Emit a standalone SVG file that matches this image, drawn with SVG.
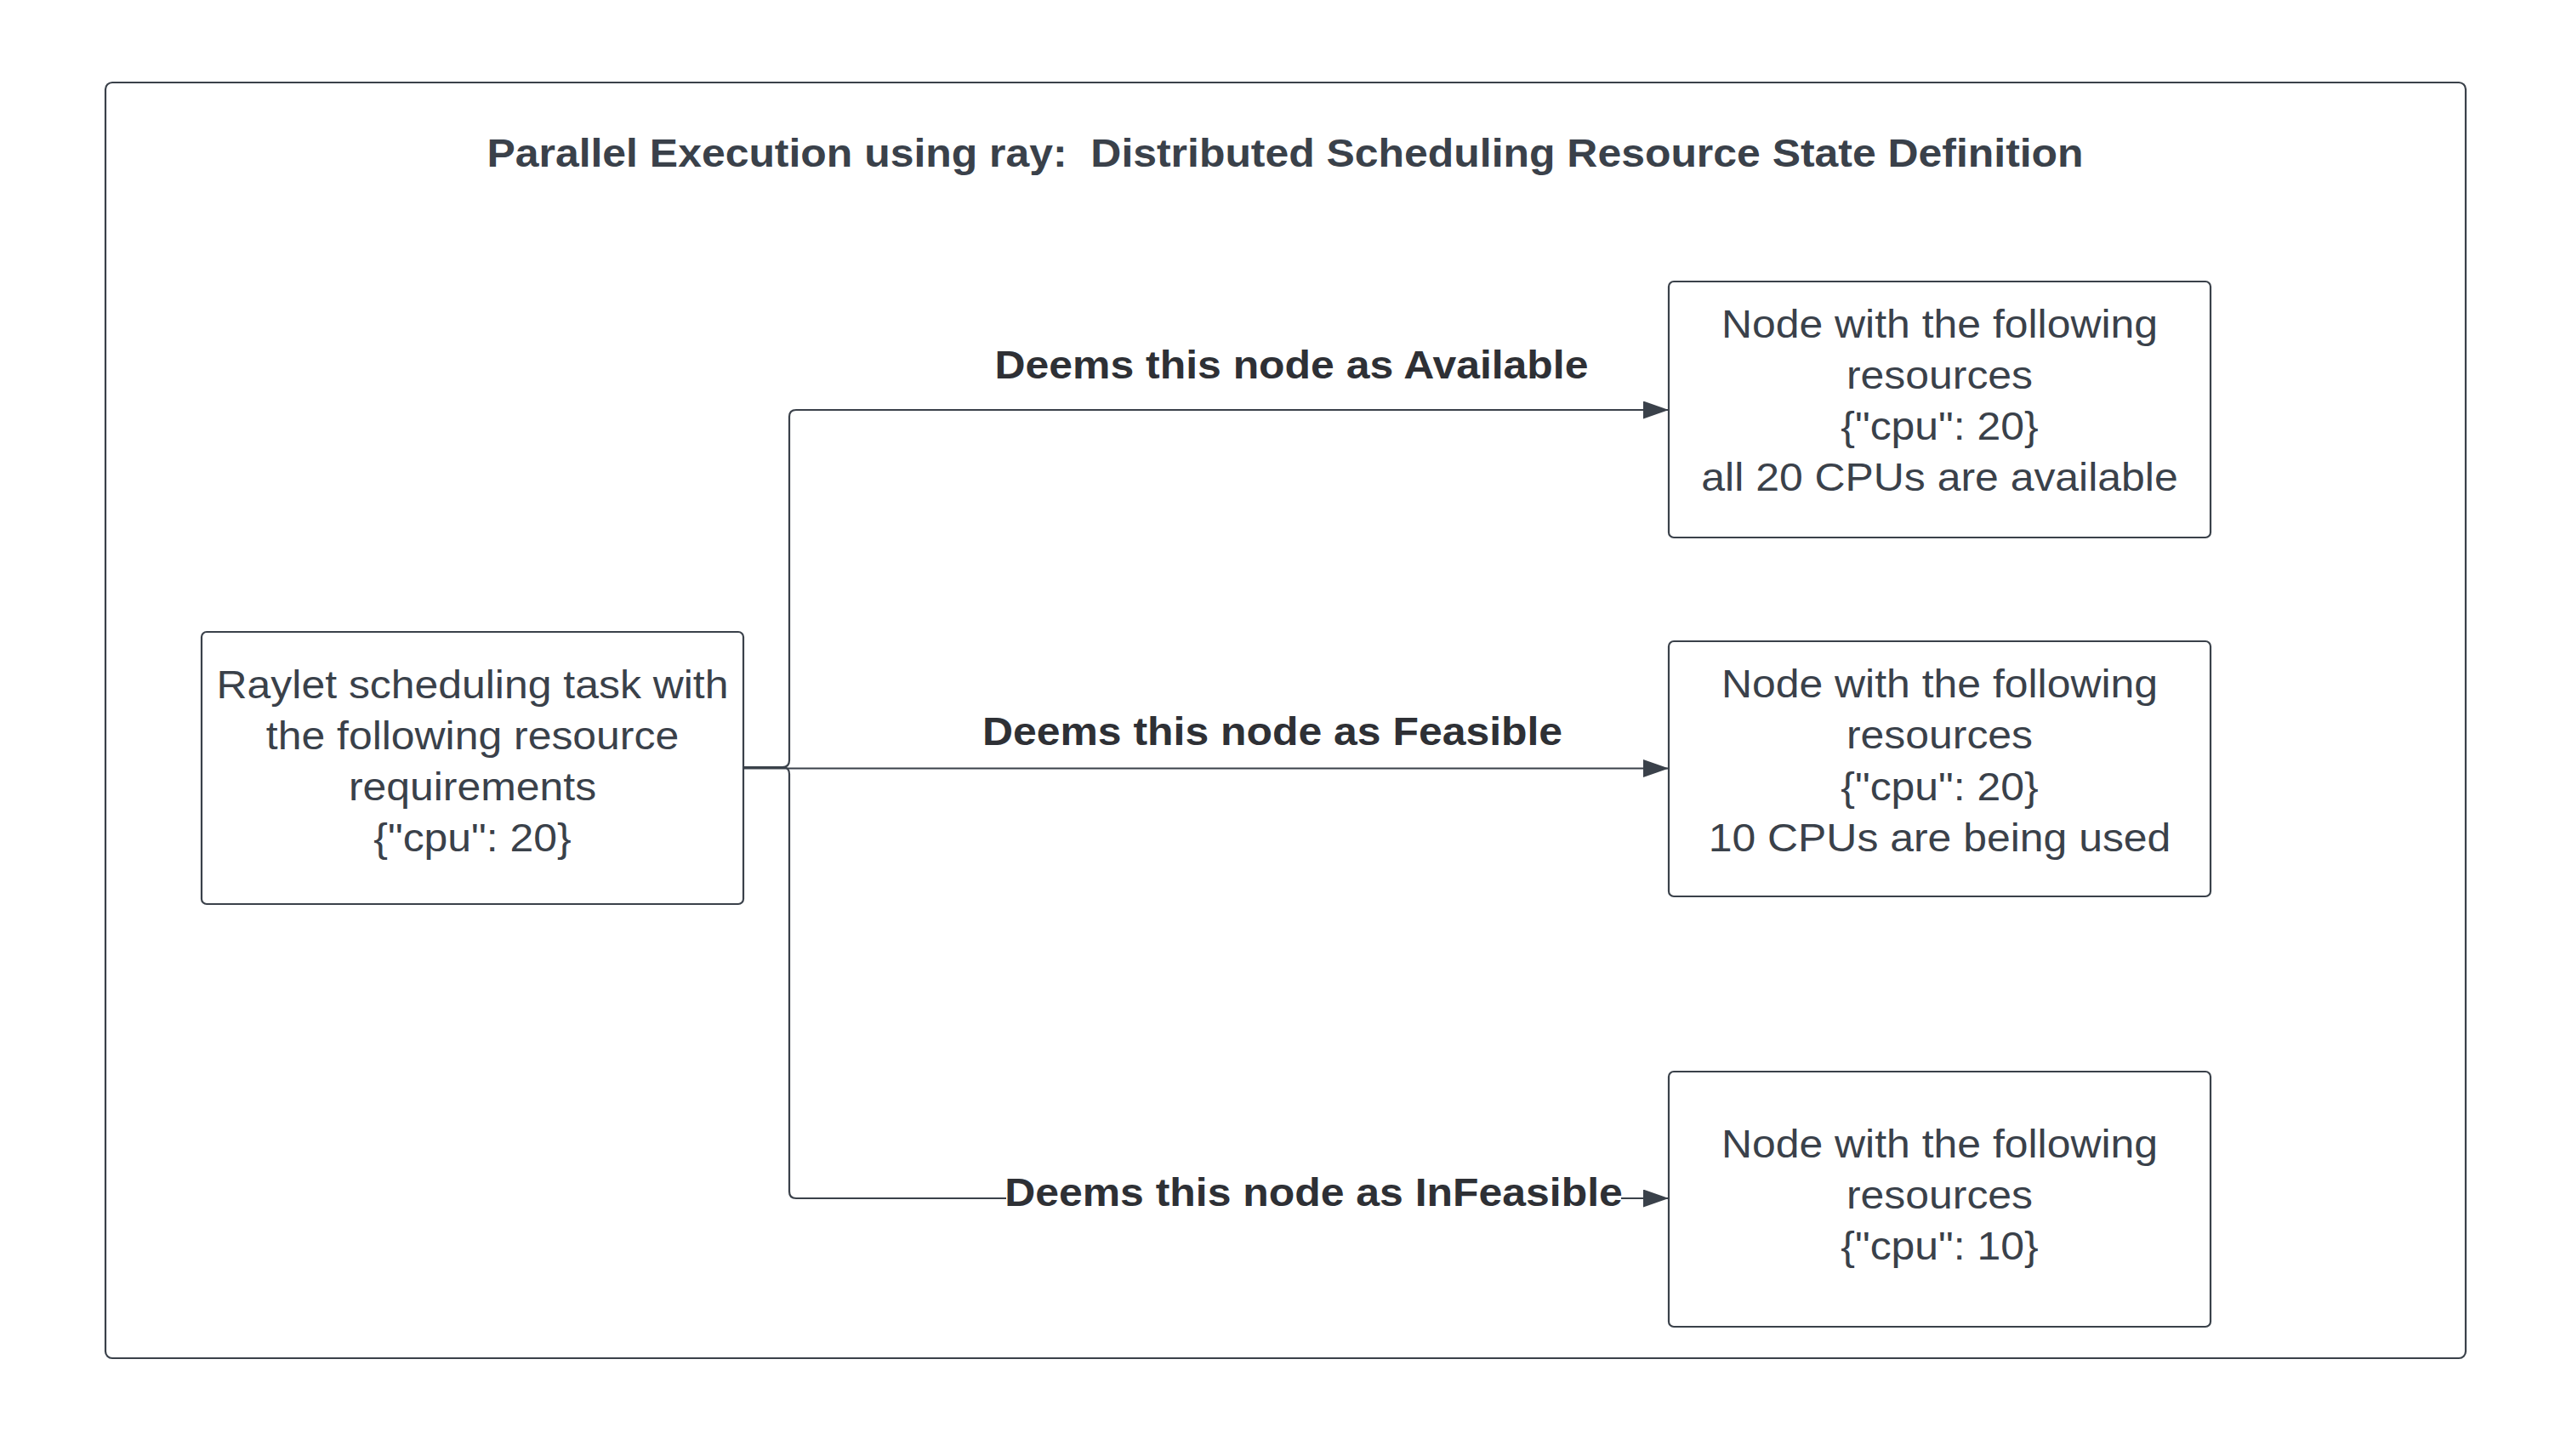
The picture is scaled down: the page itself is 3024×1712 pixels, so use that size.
<svg xmlns="http://www.w3.org/2000/svg" width="3024" height="1712" viewBox="0 0 3024 1712">
  <style>
    .box { fill: #ffffff; stroke: #3a414a; stroke-width: 2.2; }
    .frame { fill: #ffffff; stroke: #3a414a; stroke-width: 2.2; }
    .txt { font-family: "Liberation Sans", Arial, sans-serif; font-size: 46px; fill: #3a414a; text-anchor: middle; }
    .title { font-family: "Liberation Sans", Arial, sans-serif; font-size: 46px; font-weight: bold; fill: #3a414a; text-anchor: middle; }
    .lbl { font-family: "Liberation Sans", Arial, sans-serif; font-size: 46px; font-weight: bold; fill: #2e3035; text-anchor: middle; }
    .conn { fill: none; stroke: #3a414a; stroke-width: 2.2; }
  </style>
  <defs>
    <marker id="arrow" markerUnits="userSpaceOnUse" markerWidth="32" markerHeight="22" refX="30" refY="10.5" orient="auto">
      <path d="M0,0 L30,10.5 L0,21 z" fill="#3a414a"/>
    </marker>
  </defs>
  <rect width="3024" height="1712" fill="#ffffff"/>

  <g id="frame">
    <rect class="frame" x="124" y="97" width="2775" height="1500" rx="8" ry="8"/>
    <text class="title" transform="matrix(1.085 0 0 1 1511 0)" x="0" y="196">Parallel Execution using ray:&#160; Distributed Scheduling Resource State Definition</text>
  </g>

  <g id="connectors">
    <path class="conn" d="M874,902 H920 Q928,902 928,894 V490 Q928,482 936,482 H1962" marker-end="url(#arrow)"/>
    <path class="conn" d="M874,903.5 H1962" marker-end="url(#arrow)"/>
    <path class="conn" d="M874,902 H920 Q928,902 928,910 V1401 Q928,1409 936,1409 H1962" marker-end="url(#arrow)"/>
    <text class="lbl" transform="matrix(1.085 0 0 1 1518.5 0)" x="0" y="445">Deems this node as Available</text>
    <text class="lbl" transform="matrix(1.085 0 0 1 1496 0)" x="0" y="876">Deems this node as Feasible</text>
    <rect x="1183" y="1378" width="723" height="56" fill="#ffffff"/>
    <text class="lbl" transform="matrix(1.085 0 0 1 1544.5 0)" x="0" y="1418">Deems this node as InFeasible</text>
  </g>

  <g id="raylet">
    <rect class="box" x="237" y="743" width="637" height="320" rx="6" ry="6"/>
    <g class="txt" transform="matrix(1.085 0 0 1 555.5 0)">
      <text class="txt" x="0" y="821">Raylet scheduling task with</text>
      <text class="txt" x="0" y="881">the following resource</text>
      <text class="txt" x="0" y="941">requirements</text>
      <text class="txt" x="0" y="1001">{"cpu": 20}</text>
    </g>
  </g>

  <g id="node-available">
    <rect class="box" x="1962" y="331" width="637" height="301" rx="6" ry="6"/>
    <g transform="matrix(1.085 0 0 1 2280.5 0)">
      <text class="txt" x="0" y="397">Node with the following</text>
      <text class="txt" x="0" y="457">resources</text>
      <text class="txt" x="0" y="517">{"cpu": 20}</text>
      <text class="txt" x="0" y="577">all 20 CPUs are available</text>
    </g>
  </g>

  <g id="node-feasible">
    <rect class="box" x="1962" y="754" width="637" height="300" rx="6" ry="6"/>
    <g transform="matrix(1.085 0 0 1 2280.5 0)">
      <text class="txt" x="0" y="820">Node with the following</text>
      <text class="txt" x="0" y="880">resources</text>
      <text class="txt" x="0" y="941">{"cpu": 20}</text>
      <text class="txt" x="0" y="1001">10 CPUs are being used</text>
    </g>
  </g>

  <g id="node-infeasible">
    <rect class="box" x="1962" y="1260" width="637" height="300" rx="6" ry="6"/>
    <g transform="matrix(1.085 0 0 1 2280.5 0)">
      <text class="txt" x="0" y="1361">Node with the following</text>
      <text class="txt" x="0" y="1421">resources</text>
      <text class="txt" x="0" y="1481">{"cpu": 10}</text>
    </g>
  </g>
</svg>
